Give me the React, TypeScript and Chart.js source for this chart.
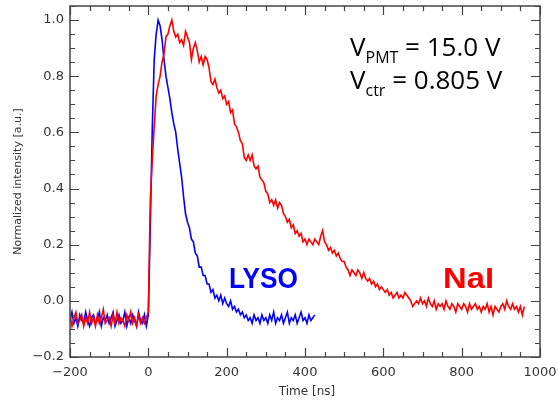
import React, { useEffect, useRef } from 'react';
import { Chart, registerables } from 'chart.js';

Chart.register(...registerables);

// Sampling grid of the recorded waveforms (ns)
const T_START = -200;
const T_STEP = 5;

// NaI trace, normalized intensity, t = -200 ... 960 ns
const NAI_VALUES = [
  -0.05, -0.09, -0.06, -0.04, -0.08, -0.07, -0.05, -0.09, -0.06, -0.08,
  -0.04, -0.08, -0.06, -0.09, -0.05, -0.08, -0.06, -0.03, -0.08, -0.07,
  -0.06, -0.09, -0.05, -0.08, -0.04, -0.08, -0.06, -0.07, -0.09, -0.05,
  -0.07, -0.04, -0.08, -0.06, -0.09, -0.05, -0.08, -0.06, -0.08, -0.06,
  -0.04, 0.36, 0.5, 0.62, 0.73, 0.77, 0.8, 0.85, 0.88, 0.94,
  0.95, 0.98, 1.0, 0.96, 0.94, 0.95, 0.92, 0.93, 0.91, 0.96,
  0.94, 0.92, 0.86, 0.9, 0.92, 0.89, 0.85, 0.87, 0.84, 0.87,
  0.86, 0.83, 0.78, 0.77, 0.79, 0.76, 0.74, 0.75, 0.72, 0.73,
  0.7, 0.71, 0.67, 0.68, 0.63, 0.62, 0.6, 0.57, 0.56, 0.51,
  0.5, 0.52, 0.5, 0.52, 0.48, 0.47, 0.48, 0.44, 0.43, 0.42,
  0.39, 0.38, 0.35, 0.36, 0.34, 0.36, 0.33, 0.35, 0.34, 0.31,
  0.3, 0.28, 0.29, 0.26, 0.27, 0.24, 0.25, 0.23, 0.24, 0.21,
  0.22, 0.2, 0.22, 0.21, 0.2, 0.22, 0.21, 0.2, 0.23, 0.25,
  0.21, 0.2, 0.18, 0.19, 0.17, 0.18, 0.16, 0.17, 0.15, 0.14,
  0.14, 0.12, 0.11, 0.09, 0.11, 0.1, 0.09, 0.11, 0.1, 0.08,
  0.1, 0.08, 0.07, 0.08, 0.06, 0.07, 0.05, 0.06, 0.04, 0.05,
  0.04, 0.03, 0.04, 0.02, 0.03, 0.01, 0.02, 0.03, 0.01, 0.02,
  0.01, 0.03, 0.02, 0.01, 0.0, -0.02, -0.01, 0.0, -0.01, 0.01,
  -0.01, 0.0, -0.02, 0.01, -0.01, -0.02, 0.0, -0.03, -0.01, -0.02,
  -0.01, -0.03, 0.0, -0.02, -0.03, -0.01, -0.02, -0.04, -0.01, -0.02,
  -0.03, -0.01, -0.02, -0.04, -0.01, -0.03, -0.02, -0.01, -0.03, -0.02,
  -0.04, -0.02, -0.03, -0.01, -0.04, -0.02, -0.05, -0.02, -0.03, -0.04,
  -0.02, -0.01, -0.03, 0.0, -0.02, -0.03, -0.01, -0.03, -0.02, -0.04,
  -0.02, -0.05, -0.02,
];

// LYSO trace, normalized intensity, t = -200 ... 425 ns
const LYSO_VALUES = [
  -0.07, -0.04, -0.08, -0.06, -0.09, -0.05, -0.07, -0.08, -0.04, -0.07,
  -0.09, -0.06, -0.05, -0.08, -0.07, -0.04, -0.09, -0.06, -0.07, -0.05,
  -0.08, -0.06, -0.04, -0.09, -0.07, -0.05, -0.08, -0.07, -0.04, -0.09,
  -0.06, -0.08, -0.05, -0.07, -0.09, -0.04, -0.07, -0.08, -0.05, -0.09,
  -0.05, 0.26, 0.61, 0.86, 0.95, 1.0, 0.98, 0.93, 0.86, 0.8,
  0.76, 0.72, 0.67, 0.63, 0.6, 0.54, 0.49, 0.44, 0.37, 0.31,
  0.28, 0.26, 0.22, 0.21, 0.17, 0.16, 0.12, 0.12, 0.09, 0.09,
  0.06, 0.06, 0.03, 0.04, 0.01, 0.02, 0.0, 0.02, -0.01, 0.01,
  -0.01, -0.02, 0.0, -0.03, -0.02, -0.04, -0.03, -0.05, -0.04, -0.06,
  -0.05, -0.07, -0.06, -0.08, -0.05, -0.07, -0.06, -0.08, -0.05, -0.07,
  -0.06, -0.08, -0.05, -0.07, -0.04, -0.08, -0.06, -0.07, -0.05, -0.08,
  -0.06, -0.04, -0.08, -0.06, -0.07, -0.05, -0.08, -0.06, -0.04, -0.07,
  -0.06, -0.08, -0.05, -0.07, -0.06, -0.05,
];

const X_TICKS = [-200, 0, 200, 400, 600, 800, 1000];
const Y_TICKS = [-0.2, 0.0, 0.2, 0.4, 0.6, 0.8, 1.0];
const X_MINOR_STEP = 50;
const Y_MINOR_STEP = 0.05;
const X_RANGE = [-200, 1000];
const Y_RANGE = [-0.2, 1.05];

const X_TITLE = 'Time [ns]';
const Y_TITLE = 'Normalized intensity [a.u.]';
const LABEL_LYSO = 'LYSO';
const LABEL_NAI = 'NaI';

const toPoints = (vals: number[]) => vals.map((v, i) => ({ x: T_START + i * T_STEP, y: v }));
const fmt = (v: number, d: number) => (v < 0 ? '\u2212' : '') + Math.abs(v).toFixed(d);

const overlayPlugin = {
  id: 'overlay',
  afterDatasetsDraw(chart: any) {
    const { ctx, chartArea } = chart;
    const xs = chart.scales.x;
    const ys = chart.scales.y;
    const { left, right, top, bottom } = chartArea;
    ctx.save();
    // frame
    ctx.strokeStyle = '#444';
    ctx.lineWidth = 1.5;
    ctx.strokeRect(left, top, right - left, bottom - top);
    // ticks
    ctx.lineWidth = 1.2;
    ctx.beginPath();
    for (let v = X_RANGE[0]; v <= X_RANGE[1] + 1e-9; v += X_MINOR_STEP) {
      const major = X_TICKS.some((t) => Math.abs(t - v) < 1e-6);
      const len = major ? 9 : 5;
      const px = Math.round(xs.getPixelForValue(v)) + 0.5;
      ctx.moveTo(px, bottom); ctx.lineTo(px, bottom - len);
      ctx.moveTo(px, top); ctx.lineTo(px, top + len);
    }
    for (let k = 0; ; k++) {
      const v = Y_RANGE[0] + k * Y_MINOR_STEP;
      if (v > Y_RANGE[1] + 1e-9) break;
      const major = Y_TICKS.some((t) => Math.abs(t - v) < 1e-6);
      const len = major ? 9 : 5;
      const py = Math.round(ys.getPixelForValue(v)) + 0.5;
      ctx.moveTo(left, py); ctx.lineTo(left + len, py);
      ctx.moveTo(right, py); ctx.lineTo(right - len, py);
    }
    ctx.stroke();

    // tick labels
    ctx.fillStyle = '#333';
    ctx.font = '13px "DejaVu Sans"';
    ctx.textBaseline = 'middle';
    ctx.textAlign = 'center';
    X_TICKS.forEach((v) => ctx.fillText(fmt(v, 0), xs.getPixelForValue(v), bottom + 16));
    ctx.textAlign = 'right';
    Y_TICKS.forEach((v) => ctx.fillText(fmt(v, 1), left - 6, ys.getPixelForValue(v)));

    // axis titles
    ctx.font = '12px "DejaVu Sans"';
    ctx.textAlign = 'center';
    ctx.fillText(X_TITLE, (left + right) / 2 + 2, 392);
    ctx.save();
    ctx.translate(18, (top + bottom) / 2);
    ctx.rotate(-Math.PI / 2);
    ctx.font = '11px "DejaVu Sans"';
    ctx.fillText(Y_TITLE, 0, 0);
    ctx.restore();

    // annotation (V_PMT / V_ctr)
    ctx.fillStyle = '#000';
    ctx.textAlign = 'left';
    ctx.textBaseline = 'alphabetic';
    const big = '26px "Open Sans"';
    const small = '16px "Open Sans"';
    const line = (x0: number, base: number, sub: string, rest: string) => {
      ctx.font = big;
      ctx.fillText('V', x0, base);
      let x = x0 + ctx.measureText('V').width;
      ctx.font = small;
      ctx.fillText(sub, x, base + 7);
      x += ctx.measureText(sub).width;
      ctx.font = big;
      ctx.fillText(rest, x, base);
    };
    line(350, 56, 'PMT', ' = 15.0 V');
    line(350, 89, 'ctr', ' = 0.805 V');

    // trace labels
    const label = (txt: string, color: string, x0: number, base: number, w: number) => {
      ctx.font = 'bold 29px "Liberation Sans"';
      const m = ctx.measureText(txt).width;
      ctx.save();
      ctx.translate(x0, base);
      ctx.scale(w / m, 1);
      ctx.fillStyle = color;
      ctx.fillText(txt, 0, 0);
      ctx.restore();
    };
    label(LABEL_LYSO, '#0000ff', 229, 288, 69);
    label(LABEL_NAI, '#ff0000', 443, 288, 51);
    ctx.restore();
  },
};

export default function App() {
  const ref = useRef<HTMLCanvasElement>(null);
  useEffect(() => {
    if (!ref.current) return;
    const chart = new Chart(ref.current, {
      type: 'line',
      data: {
        datasets: [
          {
            label: LABEL_NAI,
            data: toPoints(NAI_VALUES),
            borderColor: '#ff0000',
            borderWidth: 1.6,
            pointRadius: 0,
            tension: 0,
            order: 0,
          },
          {
            label: LABEL_LYSO,
            data: toPoints(LYSO_VALUES),
            borderColor: '#0000ff',
            borderWidth: 1.6,
            pointRadius: 0,
            tension: 0,
            order: 1,
          },
        ],
      },
      plugins: [overlayPlugin],
      options: {
        responsive: false,
        animation: false,
        layout: { padding: { top: 6, right: 18, left: 0, bottom: 0 } },
        plugins: { legend: { display: false }, tooltip: { enabled: false } },
        scales: {
          x: {
            type: 'linear',
            min: X_RANGE[0],
            max: X_RANGE[1],
            grid: { display: false, drawTicks: false },
            border: { display: false },
            ticks: { display: false },
            afterFit: (s: any) => { s.height = 49; },
          },
          y: {
            type: 'linear',
            min: Y_RANGE[0],
            max: Y_RANGE[1],
            grid: { display: false, drawTicks: false },
            border: { display: false },
            ticks: { display: false },
            afterFit: (s: any) => { s.width = 70; },
          },
        },
      },
    });
    return () => chart.destroy();
  }, []);
  return (
    <div style={{ position: 'absolute', left: 0, top: 0, width: 558, height: 406, background: '#fff' }}>
      <canvas ref={ref} width={558} height={406} />
    </div>
  );
}
